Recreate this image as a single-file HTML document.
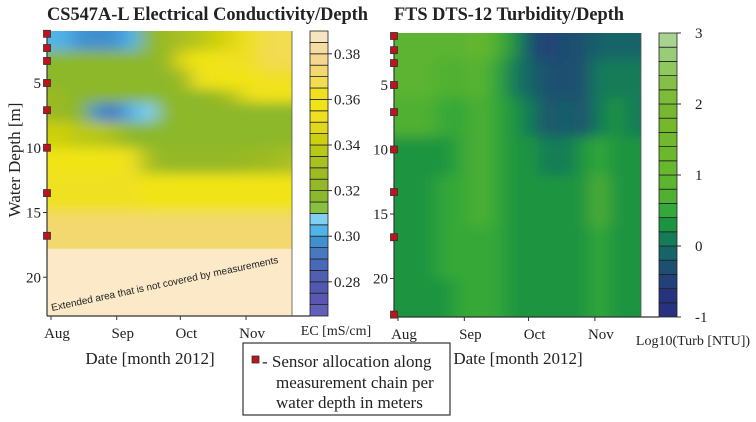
<!DOCTYPE html>
<html><head><meta charset="utf-8">
<style>
html,body{margin:0;padding:0;background:#fff;}
svg{display:block;}
text{font-family:"Liberation Serif",serif;fill:#222;}
</style></head>
<body>
<svg id="chart" width="756" height="422" viewBox="0 0 756 422" xmlns="http://www.w3.org/2000/svg">
<defs>
<filter id="soft" x="0" y="0" width="1" height="1"><feGaussianBlur stdDeviation="9 6" edgeMode="duplicate"/></filter>
<clipPath id="clipL"><rect x="47" y="31" width="245" height="285"/></clipPath>
<clipPath id="clipR"><rect x="394" y="33" width="247" height="284"/></clipPath>
</defs>
<text x="47" y="20" font-size="19" font-weight="bold" textLength="321" lengthAdjust="spacingAndGlyphs">CS547A-L Electrical Conductivity/Depth</text>
<text x="394" y="20" font-size="19" font-weight="bold" textLength="230" lengthAdjust="spacingAndGlyphs">FTS DTS-12 Turbidity/Depth</text>
<g id="gL"></g>
<g id="gR"></g>
<text x="150" y="364" font-size="17" text-anchor="middle">Date [month 2012]</text>
<text x="518" y="364" font-size="17" text-anchor="middle">Date [month 2012]</text>
<text x="20" y="160" font-size="17" text-anchor="middle" transform="rotate(-90 20 160)">Water Depth [m]</text>
<text x="336" y="335" font-size="14" text-anchor="middle">EC [mS/cm]</text>
<text x="693" y="345" font-size="14" text-anchor="middle">Log10(Turb [NTU])</text>
<g>
<rect x="243" y="343" width="207" height="72" fill="#fff" stroke="#333" stroke-width="1.2"/>
<rect x="252" y="356" width="7" height="7" fill="#c0141c" stroke="#333" stroke-width="0.8"/>
<text x="262" y="367" font-size="17">- Sensor allocation along</text>
<text x="276" y="388" font-size="17">measurement chain per</text>
<text x="276" y="408" font-size="17">water depth in meters</text>
</g>
</svg>
<script>
// ---- data ----
const months = ["Aug","Sep","Oct","Nov"];
const monthDays = [0, 31, 61, 92];
const depthTicks = [5, 10, 15, 20];
const colDays = [2, 6, 14, 22, 30, 38, 46, 54, 62, 70, 78, 86, 94, 102, 110];
const ecDepths = [1, 2.5, 4, 5.5, 6.5, 8, 10, 12, 15, 17.8];
const ecRow1 = [0.300,0.300,0.298,0.295,0.298,0.302,0.318,0.325,0.330,0.335,0.340,0.345,0.360,0.365,0.368];
const ecRow2 = [0.318,0.318,0.318,0.318,0.318,0.318,0.318,0.322,0.345,0.355,0.358,0.360,0.362,0.365,0.365];
const ecRow3 = [0.318,0.318,0.318,0.318,0.318,0.318,0.318,0.318,0.325,0.350,0.355,0.355,0.358,0.360,0.360];
const ecRow4 = [0.325,0.322,0.318,0.318,0.318,0.318,0.318,0.318,0.318,0.318,0.322,0.335,0.350,0.355,0.355];
const ecRow5 = [0.325,0.322,0.318,0.295,0.290,0.300,0.308,0.316,0.318,0.318,0.318,0.318,0.318,0.318,0.318];
const ecRow6 = [0.340,0.340,0.338,0.335,0.330,0.318,0.318,0.318,0.318,0.318,0.318,0.318,0.318,0.318,0.318];
const ecRow7 = [0.355,0.355,0.355,0.355,0.355,0.350,0.330,0.322,0.322,0.322,0.322,0.322,0.325,0.328,0.330];
const ecRow8 = [0.360,0.360,0.360,0.360,0.360,0.360,0.358,0.358,0.355,0.355,0.355,0.355,0.355,0.355,0.355];
const ecRow9 = [0.372,0.372,0.372,0.372,0.372,0.372,0.370,0.370,0.370,0.370,0.370,0.370,0.370,0.370,0.370];
const ecRows = [ecRow1,ecRow2,ecRow3,ecRow4,ecRow5,ecRow6,ecRow7,ecRow8,ecRow9];
const ecTicks = [0.28,0.30,0.32,0.34,0.36,0.38];
const ecColors = ["#6060b8","#5858b0","#5058b0","#5060b0","#4868b8","#4878c0","#4090d0","#50b4e8","#80d0f0","#88c040","#8cb82c","#94b828","#9cba22","#a8c020","#b8c818","#ccd010","#e0d818","#eee020","#f0e418","#f0e020","#f2dc50","#f3d870","#f5d890","#f6dca0","#f7e4c0"];
const tuDepths = [1, 3, 6, 9, 12, 16, 20, 23];
const tuRow1 = [0.9,0.9,0.9,0.8,0.8,1.0,0.6,0.2,-0.3,-0.5,-0.4,-0.4,-0.2,-0.1,-0.2];
const tuRow2 = [0.9,0.9,0.9,0.7,0.7,0.8,0.5,0.1,-0.1,-0.4,-0.3,-0.4,0.0,0.1,0.0];
const tuRow3 = [0.7,0.7,0.6,0.5,0.5,0.6,0.4,0.2,0.0,-0.3,-0.2,-0.3,0.1,0.2,0.1];
const tuRow4 = [0.3,0.3,0.3,0.3,0.4,0.6,0.4,0.3,0.2,0.1,0.1,0.2,0.4,0.3,0.2];
const tuRow5 = [0.3,0.3,0.3,0.4,0.5,0.6,0.5,0.3,0.3,0.3,0.3,0.3,0.6,0.3,0.3];
const tuRow6 = [0.3,0.3,0.3,0.4,0.4,0.5,0.4,0.3,0.3,0.3,0.3,0.3,0.5,0.3,0.3];
const tuRow7 = [0.3,0.3,0.3,0.3,0.4,0.4,0.4,0.3,0.3,0.3,0.3,0.3,0.4,0.3,0.2];
const tuRows = [tuRow1,tuRow2,tuRow3,tuRow4,tuRow5,tuRow6,tuRow7];
const tuTicks = [-1,0,1,2,3];
const tuColors = ["#283080","#263480","#22407a","#1d5070","#166468","#157c58","#1a9440","#34a838","#50b032","#5cb430","#68b82e","#6cb82c","#70b82c","#74b82c","#78b830","#7cbc38","#84c048","#90c860","#98cc78","#a8d490"];
const ecSensors = [1.2, 2.3, 3.3, 5, 7.1, 10, 13.5, 16.8];
const tuSensors = [1.2, 2.3, 3.3, 5, 7.1, 10, 13.3, 16.8, 22.8];

const NS = "http://www.w3.org/2000/svg";
function mk(tag, attrs, parent){const e=document.createElementNS(NS,tag);for(const k in attrs)e.setAttribute(k,attrs[k]);parent.appendChild(e);return e;}
function binColor(v, lo, hi, cols){let i=Math.floor((v-lo)/(hi-lo)*cols.length+1e-9);i=Math.max(0,Math.min(cols.length-1,i));return cols[i];}

function panel(g, P, rows, depths, cols, lo, hi, ticks, sensors, clip, extended){
  const x = d => P.x0 + (d - P.d0) * P.pxDay;
  const y = m => P.y0 + (m - P.m0) * P.pxM;
  const heat = mk('g',{'clip-path':'url(#'+clip+')'},g);
  
  
  const inner = mk('g',{filter:'url(#soft)'},heat);
  mk('rect',{x:P.L-20,y:P.T-20,width:P.R-P.L+40,height:P.B-P.T+40,fill:binColor(rows[rows.length-1][0],lo,hi,cols)},inner);
  rows.forEach((row,ri)=>{
    row.forEach((v,ci)=>{
      const xa = ci===0 ? P.L-20 : (x(colDays[ci-1])+x(colDays[ci]))/2;
      const xb = ci===row.length-1 ? P.R+20 : (x(colDays[ci])+x(colDays[ci+1]))/2;
      const ya = ri===0 ? P.T-20 : y(depths[ri]);
      const yb = ri===rows.length-1 && !extended ? P.B+20 : y(depths[ri+1]);
      const c = mk('rect',{x:xa,y:ya,width:xb-xa+0.5,height:yb-ya+0.5,fill:binColor(v,lo,hi,cols)},inner);
      
      
    });
  });
  if(extended){
    const yE = y(depths[depths.length-1]);
    const ext = mk('rect',{x:P.L,y:yE,width:P.R-P.L,height:P.B-yE,fill:'#fbe9c8'},heat);
    
    
    const t = mk('text',{x:0,y:0,'font-size':10,transform:'translate(52 311) rotate(-12)',style:'font-family:"Liberation Sans",sans-serif',fill:'#333'},g);
    t.textContent = 'Extended area that is not covered by measurements';
    
    
  }
  mk('line',{x1:P.L,y1:P.T,x2:P.L,y2:P.B,stroke:'#333','stroke-width':1.2},g);
  mk('line',{x1:P.L,y1:P.B,x2:P.cbX,y2:P.B,stroke:'#333','stroke-width':1.2},g);
  mk('line',{x1:P.R,y1:P.T,x2:P.R,y2:P.B,stroke:'#555','stroke-width':0.8},g);
  months.forEach((m,i)=>{
    const xx = x(monthDays[i]);
    mk('line',{x1:xx,y1:P.B,x2:xx,y2:P.B+4,stroke:'#333'},g);
    const t = mk('text',{x:xx+6,y:P.B+22,'font-size':15,'text-anchor':'middle'},g);
    t.textContent = m;
    
    
  });
  depthTicks.forEach(d=>{
    const yy = y(d);
    mk('line',{x1:P.L-4,y1:yy,x2:P.L,y2:yy,stroke:'#333'},g);
    const t = mk('text',{x:P.L-6,y:yy+5,'font-size':15,'text-anchor':'end'},g);
    t.textContent = d;
    
    
  });
  sensors.forEach(s=>{
    const r = mk('rect',{x:P.L-3.5,y:y(s)-3.5,width:7,height:7,fill:'#c0141c',stroke:'#333','stroke-width':0.8},g);
    
    
  });
  const cb = mk('g',{},g);
  
  
  const n = cols.length, h = (P.B-P.T)/n;
  cols.forEach((c,i)=>{
    mk('rect',{x:P.cbX,y:P.B-(i+1)*h,width:18,height:h,fill:c,stroke:'#222','stroke-width':0.8},cb);
  });
  ticks.forEach(tv=>{
    const yy = P.B - (tv-lo)/(hi-lo)*(P.B-P.T);
    mk('line',{x1:P.cbX+18,y1:yy,x2:P.cbX+22,y2:yy,stroke:'#333'},cb);
    const t = mk('text',{x:P.cbX+P.tickOff,y:yy+5,'font-size':15},cb);
    t.textContent = P.fmt(tv);
    
    
  });
}
panel(document.getElementById('gL'),
  {name:'ec',x0:51,d0:0,pxDay:2.12,y0:83,m0:5,pxM:12.95,L:47,R:292,T:31,B:316,cbX:310,tickOff:24,fmt:v=>v.toFixed(2)},
  ecRows, ecDepths, ecColors, 0.265, 0.39, ecTicks, ecSensors, 'clipL', true);
panel(document.getElementById('gR'),
  {name:'turbidity',x0:398,d0:0,pxDay:2.14,y0:85,m0:5,pxM:12.9,L:394,R:641,T:33,B:317,cbX:659,tickOff:36,fmt:v=>String(v)},
  tuRows, tuDepths, tuColors, -1, 3, tuTicks, tuSensors, 'clipR', false);
</script>
</body></html>
